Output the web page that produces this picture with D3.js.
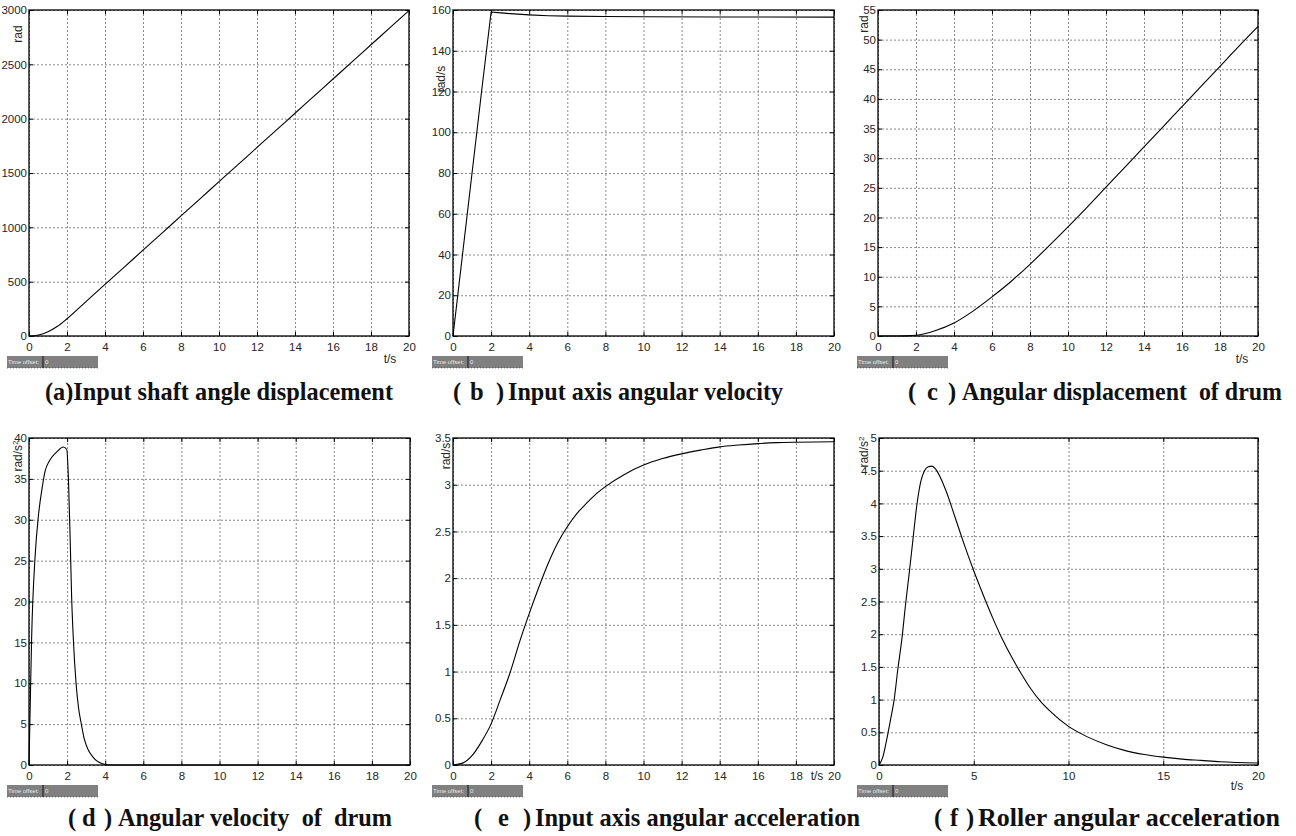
<!DOCTYPE html>
<meta charset="utf-8">
<head>
    <title>Hoist simulation curves</title>
    <script src="https://cdn.jsdelivr.net/npm/d3@7/dist/d3.min.js"></script>
    <style>
        body { margin: 0; background: #fff; }
        .tick text { font-family: "Liberation Sans", Arial, sans-serif; font-size: 11.5px; fill: #262626; }
        .grid line { stroke: #8a8a8a; stroke-dasharray: 2,2; stroke-width: 1; }
        .grid path, .axis path { display: none; }
        .axis line { stroke: #000; }
        .unit { font-family: "Liberation Sans", Arial, sans-serif; font-size: 12px; fill: #262626; }
        .caption { font-family: "Liberation Serif", "Times New Roman", serif; font-weight: bold; font-size: 24.5px; fill: #111; white-space: pre; }
    </style>
</head>
<body>
<div id="chart"></div>
<script>
    // ---- data ----
    var xTicks20 = [0, 2, 4, 6, 8, 10, 12, 14, 16, 18, 20];
    var xTicks5 = [0, 5, 10, 15, 20];

    // (a) input shaft angle displacement, rad
    var tA = [0, 0.5, 1, 1.5, 2, 3, 4, 5, 6, 7, 8, 9, 10, 11, 12, 13, 14, 15, 16, 17, 18, 19, 20];
    var yA = [0, 10, 40, 89, 159, 317, 475, 632, 790, 947, 1105, 1262, 1420, 1577, 1735, 1892, 2050, 2207, 2365, 2522, 2680, 2837, 2995];
    var yTicksA = [0, 500, 1000, 1500, 2000, 2500, 3000];

    // (b) input axis angular velocity, rad/s
    var tB = [0, 0.5, 1, 1.5, 2, 2.5, 3, 4, 5, 6, 8, 10, 14, 20];
    var yB = [0, 40, 80, 120, 159, 158.6, 158.2, 157.6, 157.2, 157.0, 156.8, 156.7, 156.6, 156.5];
    var yTicksB = [0, 20, 40, 60, 80, 100, 120, 140, 160];

    // (c) angular displacement of drum, rad
    var tC = [0, 1, 1.5, 2, 3, 4, 5, 6, 7, 8, 9, 10, 11, 12, 13, 14, 15, 16, 17, 18, 19, 20];
    var yC = [0, 0, 0.02, 0.12, 0.9, 2.2, 4.2, 6.6, 9.2, 12.1, 15.2, 18.4, 21.7, 25.1, 28.5, 31.9, 35.3, 38.7, 42.1, 45.5, 48.9, 52.2];
    var yTicksC = [0, 5, 10, 15, 20, 25, 30, 35, 40, 45, 50, 55];

    // (d) angular velocity of drum
    var tD = [0, 0.07, 0.14, 0.32, 0.49, 0.67, 0.84, 1.1, 1.46, 1.8, 1.98, 2.07, 2.16, 2.24, 2.33, 2.47, 2.6, 2.74, 2.9, 3.12, 3.35, 3.56, 3.8, 4.0, 4.2, 6, 10, 20];
    var yD = [0, 8, 15.7, 25.5, 30.4, 33.6, 35.9, 37.3, 38.3, 38.9, 38.6, 35, 27.7, 20.4, 15.3, 10, 7, 5.1, 3.2, 1.8, 1.0, 0.5, 0.2, 0.05, 0, 0, 0, 0];
    var yTicksD = [0, 5, 10, 15, 20, 25, 30, 35, 40];

    // (e) input axis angular acceleration
    var tE = [0, 0.5, 1, 1.5, 2, 2.5, 3, 3.5, 4, 4.5, 5, 5.5, 6, 6.5, 7, 7.5, 8, 9, 10, 11, 12, 13, 14, 15, 16, 17, 18, 20];
    var yE = [0, 0.02, 0.1, 0.25, 0.44, 0.71, 0.99, 1.32, 1.62, 1.9, 2.16, 2.38, 2.55, 2.69, 2.8, 2.9, 2.98, 3.11, 3.21, 3.28, 3.33, 3.37, 3.405, 3.425, 3.44, 3.45, 3.455, 3.46];
    var yTicksE = [0, 0.5, 1, 1.5, 2, 2.5, 3, 3.5];

    // (f) roller angular acceleration
    var tF = [0, 0.2, 0.4, 0.6, 0.8, 1.0, 1.2, 1.4, 1.6, 1.8, 2.0, 2.2, 2.4, 2.6, 2.8, 3.0, 3.5, 4.0, 4.5, 5.0, 5.5, 6.0, 6.5, 7.0, 7.5, 8.0, 8.5, 9.0, 10, 11, 12, 13, 14, 15, 16, 17, 18, 20];
    var yF = [0, 0.12, 0.38, 0.68, 1.0, 1.48, 1.91, 2.45, 2.95, 3.47, 3.98, 4.33, 4.5, 4.56, 4.57, 4.52, 4.22, 3.8, 3.37, 2.97, 2.6, 2.25, 1.93, 1.65, 1.4, 1.17, 0.98, 0.83, 0.59, 0.43, 0.31, 0.22, 0.16, 0.12, 0.09, 0.07, 0.05, 0.03];
    var yTicksF = [0, 0.5, 1, 1.5, 2, 2.5, 3, 3.5, 4, 4.5, 5];

    // ---- layout ----
    var width = 1296, height = 836;
    var svg = d3.select("#chart").append("svg")
        .attr("width", width).attr("height", height);
    svg.append("rect").attr("width", width).attr("height", height).attr("fill", "#fff");

    // caption pieces: [text, x, fitted width]
    var panels = [
        { t: tA, y: yA, xt: xTicks20, yt: yTicksA, x0: 29, x1: 409, y0: 10, y1: 336, curve: d3.curveMonotoneX,
          unit: "rad", ux: 18, uy: 34, ts: [390, 363], bar: [7, 356, 43], cy: 400,
          cap: [["(a)Input shaft angle displacement", 45, 348]] },
        { t: tB, y: yB, xt: xTicks20, yt: yTicksB, x0: 453, x1: 834, y0: 10, y1: 336, curve: d3.curveLinear,
          unit: "rad/s", ux: 441, uy: 79, ts: null, bar: [432, 356, 468], cy: 400,
          cap: [["(", 453], ["b", 470], [")", 496], ["Input axis angular velocity", 508, 275]] },
        { t: tC, y: yC, xt: xTicks20, yt: yTicksC, x0: 878, x1: 1258, y0: 10, y1: 336, curve: d3.curveMonotoneX,
          unit: "rad", ux: 864, uy: 24, ts: [1242, 363], bar: [857, 356, 893], cy: 400,
          cap: [["(", 908], ["c", 927], [")", 948], ["Angular displacement  of drum", 962, 320]] },
        { t: tD, y: yD, xt: xTicks20, yt: yTicksD, x0: 29, x1: 410, y0: 438, y1: 765, curve: d3.curveMonotoneX,
          unit: "rad/s", sup: true, ux: 18, uy: 456, ts: null, bar: [7, 785, 43], cy: 826,
          cap: [["(", 68], ["d", 82], [")", 104], ["Angular velocity  of  drum", 118, 274]] },
        { t: tE, y: yE, xt: xTicks20, yt: yTicksE, x0: 453, x1: 834, y0: 438, y1: 765, curve: d3.curveMonotoneX,
          unit: "rad/s", ux: 446, uy: 456, ts: [817, 780], bar: [432, 785, 468], cy: 826,
          cap: [["(", 474], ["e", 498], [")", 523], ["Input axis angular acceleration", 535, 325]] },
        { t: tF, y: yF, xt: xTicks5, yt: yTicksF, x0: 879, x1: 1258, y0: 438, y1: 765, curve: d3.curveMonotoneX,
          unit: "rad/s", sup: true, ux: 864, uy: 452, ts: [1237, 790], bar: [857, 785, 893], cy: 826,
          cap: [["(", 934], ["f", 950], [")", 966], ["Roller angular acceleration", 978, 302]] }
    ];

    panels.forEach(function(p) {
        var w = p.x1 - p.x0, h = p.y1 - p.y0;
        var x = d3.scaleLinear().domain([0, 20]).range([0, w]);
        var y = d3.scaleLinear().domain([0, d3.max(p.yt)]).range([h, 0]);
        var g = svg.append("g").attr("transform", "translate(" + p.x0 + "," + p.y0 + ")");

        // dashed grid
        g.append("g").attr("class", "grid")
            .attr("transform", "translate(0," + h + ")")
            .call(d3.axisBottom(x).tickValues(p.xt).tickSize(-h).tickFormat(""));
        g.append("g").attr("class", "grid")
            .call(d3.axisLeft(y).tickValues(p.yt).tickSize(-w).tickFormat(""));

        // curve
        var pts = p.t.map(function(d, i) { return [d, p.y[i]]; });
        g.append("path")
            .datum(pts)
            .attr("fill", "none")
            .attr("stroke", "#000")
            .attr("stroke-width", 1.1)
            .attr("d", d3.line().curve(p.curve)
                .x(function(d) { return x(d[0]); })
                .y(function(d) { return y(d[1]); }));

        // inward ticks on all four sides
        g.append("g").attr("class", "axis")
            .attr("transform", "translate(0," + h + ")")
            .call(d3.axisBottom(x).tickValues(p.xt).tickSizeInner(-4).tickSizeOuter(0).tickPadding(7)
                .tickFormat(function(d) { return d; }));
        g.append("g").attr("class", "axis")
            .call(d3.axisTop(x).tickValues(p.xt).tickSizeInner(-4).tickSizeOuter(0).tickFormat(""));
        g.append("g").attr("class", "axis")
            .call(d3.axisLeft(y).tickValues(p.yt).tickSizeInner(-4).tickSizeOuter(0).tickPadding(2)
                .tickFormat(function(d) { return d; }));
        g.append("g").attr("class", "axis")
            .attr("transform", "translate(" + w + ",0)")
            .call(d3.axisRight(y).tickValues(p.yt).tickSizeInner(-4).tickSizeOuter(0).tickFormat(""));

        g.append("rect")
            .attr("width", w).attr("height", h)
            .attr("fill", "none").attr("stroke", "#000").attr("stroke-width", 1.3);

        // unit labels
        var u = svg.append("text").attr("class", "unit")
            .attr("text-anchor", "middle")
            .attr("transform", "translate(" + p.ux + "," + p.uy + ") rotate(-90)")
            .attr("dy", "0.35em")
            .text(p.unit);
        if (p.sup) {
            u.append("tspan").attr("font-size", "8px").attr("dy", "-0.5em").text("2");
        }
        if (p.ts) {
            svg.append("text").attr("class", "unit")
                .attr("text-anchor", "middle")
                .attr("x", p.ts[0]).attr("y", p.ts[1])
                .text("t/s");
        }

        // "Time offset" strip
        var b = svg.append("g");
        b.append("rect").attr("x", p.bar[0]).attr("y", p.bar[1])
            .attr("width", 91).attr("height", 12).attr("fill", "#808080");
        b.append("line").attr("x1", p.bar[2]).attr("x2", p.bar[2])
            .attr("y1", p.bar[1]).attr("y2", p.bar[1] + 12)
            .attr("stroke", "#111").attr("stroke-width", 1);
        b.append("line").attr("x1", p.bar[0]).attr("x2", p.bar[0] + 91)
            .attr("y1", p.bar[1] + 12).attr("y2", p.bar[1] + 12)
            .attr("stroke", "#333").attr("stroke-width", 0.6).attr("stroke-dasharray", "1,2");
        b.append("text").attr("x", p.bar[0] + 1).attr("y", p.bar[1] + 8)
            .attr("font-family", "Liberation Sans, Arial, sans-serif")
            .attr("font-size", "6px").attr("fill", "#e8e8e8")
            .text("Time offset:");
        b.append("text").attr("x", p.bar[2] + 2).attr("y", p.bar[1] + 8)
            .attr("font-family", "Liberation Sans, Arial, sans-serif")
            .attr("font-size", "6px").attr("fill", "#e8e8e8")
            .text("0");

        // caption
        p.cap.forEach(function(c) {
            var tx = svg.append("text").attr("class", "caption")
                .attr("x", c[1]).attr("y", p.cy)
                .text(c[0]);
            if (c[2]) tx.attr("textLength", c[2]).attr("lengthAdjust", "spacingAndGlyphs");
        });
    });
</script>
</body>
</html>
